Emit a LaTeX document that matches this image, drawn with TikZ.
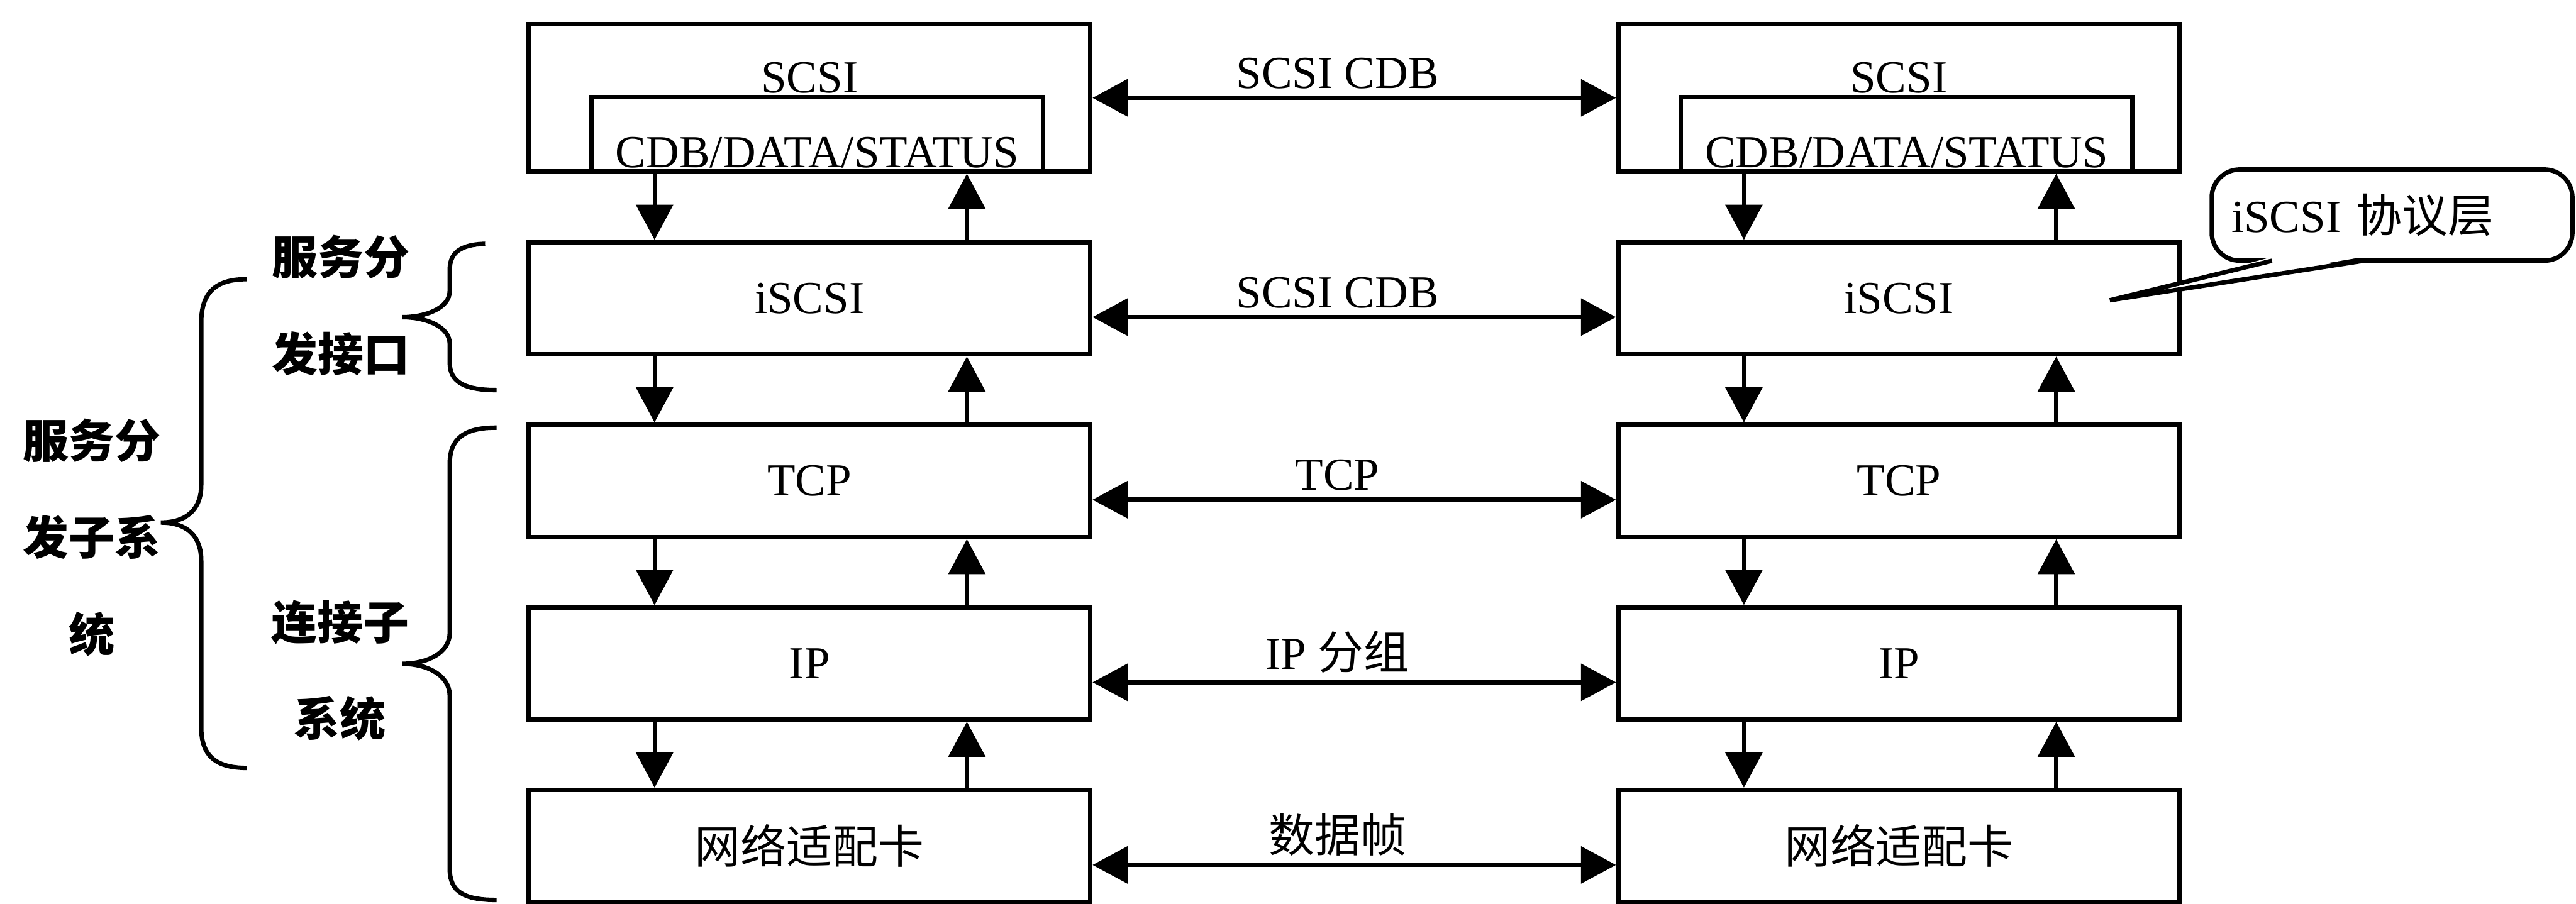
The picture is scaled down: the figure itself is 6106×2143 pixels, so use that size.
\documentclass[tikz,border=0pt]{standalone}
\usepackage{fontspec}
\setmainfont{Liberation Serif}
\newfontfamily\cjk{Noto Sans CJK SC}
\usepackage{tikz}
\usetikzlibrary{positioning, arrows.meta, calc}

\begin{document}
\begin{tikzpicture}[
    x=0.003cm, y=-0.003cm,
    every node/.style={font=\fontsize{9.3}{12}\selectfont},
    layer/.style={rectangle, draw, line width=0.9pt,
                  minimum width=40mm, minimum height=8mm, inner sep=0pt},
    scsibox/.style={layer, text height=4.9mm, text depth=5.6mm},
    cdbbox/.style={rectangle, draw, line width=0.9pt, minimum width=32.2mm,
                   inner sep=0pt, text height=5mm, text depth=0.3mm},
    peer/.style={<->, >={Triangle[length=2.5mm, width=2.6mm]}, line width=0.9pt},
    updown/.style={->, >={Triangle[length=2.5mm, width=2.6mm]}, line width=0.8pt},
    linklbl/.style={above, inner sep=0.5mm, xshift=-1.2mm},
    tag/.style={font=\cjk\bfseries\fontsize{9.3}{19.6}\selectfont, align=center, inner sep=0pt},
    curly/.style={line width=0.9pt},
    note/.style={rectangle, draw, line width=0.9pt, rounded corners=2mm,
                 minimum height=6.5mm, inner xsep=1.4mm, text width=22.9mm, align=left},
  ]
  \useasboundingbox (0,0) rectangle (6106,2143);

  % Initiator stack
  \node[scsibox] (scsiL) at (1919,232) {SCSI};
  \node[cdbbox, anchor=south] (cdbL) at ($(scsiL.south)+(18,0)$) {CDB/DATA/STATUS};
  \node[layer] (ifL) at (1919,707) {iSCSI};
  \node[layer, below=4.7mm of ifL] (tcpL) {TCP};
  \node[layer, below=4.7mm of tcpL] (ipL) {IP};
  \node[layer, below=4.7mm of ipL] (nicL) {\cjk 网络适配卡};

  % Target stack
  \node[scsibox, right=37.3mm of scsiL] (scsiR) {SCSI};
  \node[cdbbox, anchor=south] (cdbR) at ($(scsiR.south)+(18,0)$) {CDB/DATA/STATUS};
  \node[layer, right=37.3mm of ifL] (ifR) {iSCSI};
  \node[layer, right=37.3mm of tcpL] (tcpR) {TCP};
  \node[layer, right=37.3mm of ipL] (ipR) {IP};
  \node[layer, right=37.3mm of nicL] (nicR) {\cjk 网络适配卡};

  % Up and down inside each stack
  \foreach \a/\b in {scsiL/ifL, ifL/tcpL, tcpL/ipL, ipL/nicL, scsiR/ifR, ifR/tcpR, tcpR/ipR, ipR/nicR} {
    \draw[updown] ($(\a.south west)!0.226!(\a.south east)$) -- ($(\b.north west)!0.226!(\b.north east)$);
    \draw[updown] ($(\b.north west)!0.778!(\b.north east)$) -- ($(\a.south west)!0.778!(\a.south east)$);
  }

  % Peer to peer
  \draw[peer] (scsiL.east) -- node[linklbl] {SCSI CDB} (scsiR.west);
  \draw[peer] ([yshift=-1.35mm]ifL.east) -- node[linklbl] {SCSI CDB} ([yshift=-1.35mm]ifR.west);
  \draw[peer] ([yshift=-1.35mm]tcpL.east) -- node[linklbl] {TCP} ([yshift=-1.35mm]tcpR.west);
  \draw[peer] ([yshift=-1.35mm]ipL.east) -- node[linklbl] {IP\ {\cjk 分组}} ([yshift=-1.35mm]ipR.west);
  \draw[peer] ([yshift=-1.35mm]nicL.east) -- node[linklbl] {\cjk 数据帧} ([yshift=-1.35mm]nicR.west);

  % Callout
  \node[note] (note) at (5670,510) {iSCSI {\cjk 协议层}};
  \coordinate (tip) at ($(ifR.center)+(500,5)$);
  \fill[white] ($(note.south west)+(148,-14)$) -- (tip) -- ($(note.south west)+(364,-14)$) -- cycle;
  \draw[line width=0.9pt] ($(note.south west)+(148,-5)$) -- (tip) -- ($(note.south west)+(364,-5)$);

  % Subsystem braces
  \node[tag] (svcsys) at (218,1275) {服务分\\发子系\\统};
  \node[tag] (svcif) at (808,724) {服务分\\发接口};
  \node[tag] (connsys) at (806,1590) {连接子\\系统};
  \draw[curly] (585,662) .. controls (515,662) and (477,690) .. (477,765) -- (477,1150)
    .. controls (477,1210) and (440,1239) .. (381,1239)
    .. controls (440,1239) and (477,1268) .. (477,1330) -- (477,1725)
    .. controls (477,1795) and (515,1821) .. (585,1821);
  \draw[curly] (1150,578) .. controls (1090,580) and (1066,600) .. (1066,640) -- (1066,690)
    .. controls (1066,730) and (1010,752) .. (954,752)
    .. controls (1010,752) and (1066,775) .. (1066,815) -- (1066,860)
    .. controls (1066,905) and (1100,925) .. (1177,925);
  \draw[curly] (1177,1014) .. controls (1100,1014) and (1066,1040) .. (1066,1100) -- (1066,1500)
    .. controls (1066,1550) and (1010,1574) .. (954,1574)
    .. controls (1010,1574) and (1066,1600) .. (1066,1650) -- (1066,2060)
    .. controls (1066,2115) and (1100,2134) .. (1177,2134);
\end{tikzpicture}
\end{document}
